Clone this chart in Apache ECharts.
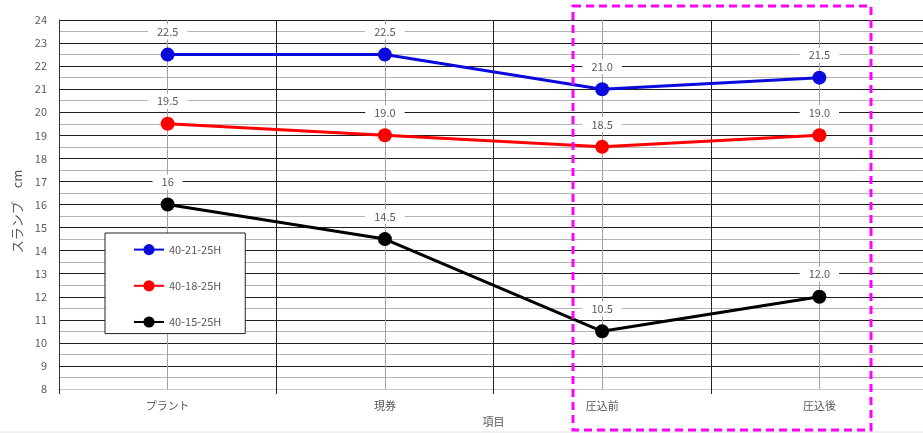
<!DOCTYPE html>
<html>
<head>
<meta charset="utf-8">
<script src="https://cdn.jsdelivr.net/npm/echarts@6/dist/echarts.min.js"></script>
<style>
html,body{margin:0;padding:0;background:#fff;}
#main{width:923px;height:433px;}
</style>
</head>
<body>
<div id="main"></div>
<script>
const categories = ['プラント', '現券', '圧込前', '圧込後'];
const seriesNames = ['40-21-25H', '40-18-25H', '40-15-25H'];
const blueValues = [22.5, 22.5, 21.0, 21.5];
const redValues = [19.5, 19.0, 18.5, 19.0];
const blackValues = [16, 14.5, 10.5, 12.0];
const blueLabels = ['22.5', '22.5', '21.0', '21.5'];
const redLabels = ['19.5', '19.0', '18.5', '19.0'];
const blackLabels = ['16', '14.5', '10.5', '12.0'];
const yMin = 8, yMax = 24;

const colors = ['#0a0adc', '#ff0000', '#000000'];
const allValues = [blueValues, redValues, blackValues];
const allLabels = [blueLabels, redLabels, blackLabels];

const chart = echarts.init(document.getElementById('main'));
const font = 'Noto Sans CJK JP, Noto Sans, sans-serif';

const series = seriesNames.map((name, i) => ({
  name: name,
  type: 'line',
  data: allValues[i],
  xAxisIndex: 0,
  symbol: 'circle',
  symbolSize: 14,
  lineStyle: { width: 3, color: colors[i] },
  itemStyle: { color: colors[i] },
  z: 5,
  label: {
    show: true,
    position: 'top',
    distance: 8,
    formatter: p => allLabels[i][p.dataIndex],
    color: '#595959',
    fontSize: 11,
    fontFamily: font,
    backgroundColor: '#ffffff',
    padding: [2, 9]
  }
}));

chart.setOption({
  animation: false,
  backgroundColor: '#ffffff',
  textStyle: { fontFamily: font },
  grid: { left: 59, right: -5, top: 20, bottom: 44, containLabel: false, outerBoundsMode: 'none' },
  legend: {
    orient: 'vertical',
    left: 105,
    top: 233,
    data: seriesNames,
    backgroundColor: '#ffffff',
    borderColor: '#222',
    borderWidth: 1,
    padding: [11, 24, 6, 28],
    itemGap: 25,
    itemWidth: 30,
    itemHeight: 14,
    textStyle: { color: '#595959', fontSize: 11, fontFamily: font }
  },
  xAxis: [{
    type: 'category',
    data: categories,
    boundaryGap: true,
    name: '項目',
    nameLocation: 'middle',
    nameGap: 27,
    nameTextStyle: { color: '#595959', fontSize: 11, fontFamily: font },
    axisLine: { show: true, lineStyle: { color: '#c8c8c8', width: 1 } },
    axisTick: { show: true, length: 5, lineStyle: { color: '#222' } },
    axisLabel: { color: '#595959', fontSize: 11, margin: 11, fontFamily: font },
    splitLine: { show: true, lineStyle: { color: '#222', width: 1 } }
  }, {
    type: 'category',
    data: categories,
    boundaryGap: true,
    position: 'bottom',
    axisLine: { show: false },
    axisLabel: { show: false },
    axisTick: { show: true, alignWithLabel: true, inside: true, length: 369, lineStyle: { color: '#a0a0a0', width: 1 } },
    splitLine: { show: false }
  }],
  yAxis: {
    type: 'value',
    min: yMin,
    max: yMax,
    interval: 0.5,
    name: 'スランプ　cm',
    nameLocation: 'middle',
    nameGap: 33,
    nameRotate: 90,
    nameTextStyle: { color: '#595959', fontSize: 13, fontFamily: font, padding: [0, 14, 0, 0] },
    axisLine: { show: true, lineStyle: { color: '#333', width: 1 } },
    axisTick: { show: false },
    axisLabel: {
      color: '#595959',
      fontSize: 11,
      margin: 12,
      fontFamily: font,
      formatter: v => (Number.isInteger(v) ? String(v) : '')
    },
    splitLine: { show: true, lineStyle: { color: ['#1e1e1e', '#b4b4b4'], width: 1 } }
  },
  series: series,
  graphic: [{
    type: 'line',
    shape: { x1: 0, y1: 432, x2: 923, y2: 432 },
    style: { stroke: '#e0e0e0', lineWidth: 1 },
    silent: true
  }, {
    type: 'rect',
    shape: { x: 573, y: 6, width: 298, height: 424 },
    style: { fill: 'none', stroke: '#ff00ff', lineWidth: 3, lineDash: [8, 5] },
    z: 100,
    silent: true
  }]
});
</script>
</body>
</html>
